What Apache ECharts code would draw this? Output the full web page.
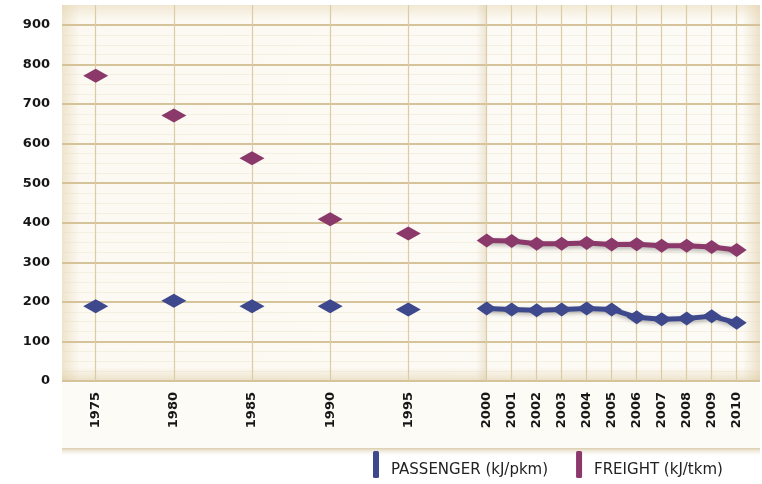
<!DOCTYPE html>
<html>
<head>
<meta charset="utf-8">
<script src="https://cdn.jsdelivr.net/npm/echarts@6/dist/echarts.min.js"></script>
<style>
  html, body { margin: 0; padding: 0; background: #ffffff; }
  #chart { width: 762px; height: 484px; }
</style>
</head>
<body>
<div id="chart"></div>
<script>
// ---- data ----
const yearsEarly = ['1975', '1980', '1985', '1990', '1995'];
const yearsLate = ['2000', '2001', '2002', '2003', '2004', '2005', '2006', '2007', '2008', '2009', '2010'];
const passengerEarly = [189, 203, 189, 189, 181];
const freightEarly = [772, 671, 563, 409, 373];
const passengerLate = [183, 181, 179, 181, 183, 181, 161, 156, 158, 164, 147];
const freightLate = [355, 354, 347, 347, 349, 345, 346, 342, 342, 339, 331];
const seriesNames = ['PASSENGER (kJ/pkm)', 'FREIGHT (kJ/tkm)'];
const yMin = 0, yMax = 900, yStep = 100;

// ---- layout ----
const paperLeft = 62, paperRight = 760, paperTop = 5;
const yTopPx = 25, yBottomPx = 381;
const hiddenMax = yMax * (yBottomPx - paperTop) / (yBottomPx - yTopPx);
const colPassenger = '#3d488d';
const colFreight = '#8b386b';
const labelFont = { fontFamily: 'DejaVu Sans', fontWeight: 'bold', fontSize: 13, color: '#161616' };

const chart = echarts.init(document.getElementById('chart'));
chart.setOption({
  animation: false,
  backgroundColor: '#ffffff',
  graphic: [
    { type: 'rect', z: -10, shape: { x: paperLeft, y: paperTop, width: paperRight - paperLeft, height: yBottomPx - paperTop + 1 },
      style: { fill: new echarts.graphic.LinearGradient(0, 0, 1, 0, [
        { offset: 0, color: '#efe4cc' }, { offset: 0.025, color: '#fcf9f2' },
        { offset: 0.975, color: '#fdfbf6' }, { offset: 1, color: '#ece1c8' }]) } },
    { type: 'rect', z: -9, shape: { x: paperLeft, y: paperTop, width: paperRight - paperLeft, height: yBottomPx - paperTop + 1 },
      style: { fill: new echarts.graphic.LinearGradient(0, 0, 0, 1, [
        { offset: 0, color: 'rgba(228,210,172,0.45)' }, { offset: 0.04, color: 'rgba(228,210,172,0)' },
        { offset: 0.96, color: 'rgba(225,205,165,0)' }, { offset: 1, color: 'rgba(215,195,150,0.5)' }]) } },
    { type: 'rect', z: -9, shape: { x: 476, y: paperTop, width: 11, height: yBottomPx - paperTop },
      style: { fill: new echarts.graphic.LinearGradient(0, 0, 1, 0, [
        { offset: 0, color: 'rgba(205,185,145,0)' }, { offset: 1, color: 'rgba(205,185,145,0.35)' }]) } },
    { type: 'rect', z: -10, shape: { x: paperLeft, y: yBottomPx + 2, width: paperRight - paperLeft, height: 66 },
      style: { fill: '#fdfbf6' } },
    { type: 'rect', z: -9, shape: { x: paperLeft, y: 448, width: paperRight - paperLeft, height: 9 },
      style: { fill: new echarts.graphic.LinearGradient(0, 0, 0, 1, [
        { offset: 0, color: 'rgba(205,185,140,0.7)' }, { offset: 1, color: 'rgba(255,255,255,0)' }]) } }
  ],
  grid: [
    { left: paperLeft, top: yTopPx, width: paperRight - paperLeft, height: yBottomPx - yTopPx },
    { left: 95.7, top: paperTop, width: 408.3 - 95.7, height: yBottomPx - paperTop },
    { left: 486.7, top: paperTop, width: 250, height: yBottomPx - paperTop }
  ],
  xAxis: [
    { gridIndex: 0, type: 'value', show: false, min: 0, max: 1 },
    { gridIndex: 1, type: 'category', data: yearsEarly, boundaryGap: false,
      axisLine: { show: false }, axisTick: { show: false },
      axisLabel: Object.assign({ rotate: 90, margin: 11, interval: 0 }, labelFont),
      splitLine: { show: true, lineStyle: { color: '#dccca6', width: 1.2 } } },
    { gridIndex: 2, type: 'category', data: yearsLate, boundaryGap: false,
      axisLine: { show: false }, axisTick: { show: false },
      axisLabel: Object.assign({ rotate: 90, margin: 11, interval: 0 }, labelFont),
      splitLine: { show: true, lineStyle: { color: '#dccca6', width: 1.2 } } }
  ],
  yAxis: [
    { gridIndex: 0, type: 'value', min: yMin, max: yMax, interval: yStep,
      axisLine: { show: false }, axisTick: { show: false },
      axisLabel: Object.assign({ margin: 12 }, labelFont),
      splitLine: { show: true, lineStyle: { color: '#d6c399', width: 2.2 } },
      minorTick: { show: false, splitNumber: 4 },
      minorSplitLine: { show: true, lineStyle: { color: 'rgba(230,215,185,0.3)', width: 1 } } },
    { gridIndex: 1, type: 'value', min: 0, max: hiddenMax, show: false },
    { gridIndex: 2, type: 'value', min: 0, max: hiddenMax, show: false }
  ],
  legend: {
    data: seriesNames,
    left: 373, top: 451, padding: 0,
    icon: 'roundRect', itemWidth: 6, itemHeight: 27, itemGap: 28,
    itemStyle: { opacity: 1 },
    formatter: function (name) { return '{t|' + name + '}'; },
    textStyle: {
      fontFamily: 'DejaVu Sans', fontSize: 15, color: '#222',
      rich: { t: { fontFamily: 'DejaVu Sans', fontSize: 15, color: '#222', padding: [12, 0, 0, 7] } }
    }
  },
  series: [
    { name: seriesNames[0], type: 'scatter', xAxisIndex: 1, yAxisIndex: 1, data: passengerEarly,
      symbol: 'diamond', symbolSize: [25, 14], itemStyle: { color: colPassenger, opacity: 1 } },
    { name: seriesNames[1], type: 'scatter', xAxisIndex: 1, yAxisIndex: 1, data: freightEarly,
      symbol: 'diamond', symbolSize: [25, 14], itemStyle: { color: colFreight, opacity: 1 } },
    { name: seriesNames[0], type: 'line', xAxisIndex: 2, yAxisIndex: 2, data: passengerLate,
      symbol: 'diamond', symbolSize: [20, 14], showAllSymbol: true,
      itemStyle: { color: colPassenger, opacity: 1 },
      lineStyle: { color: colPassenger, width: 5, shadowColor: 'rgba(0,0,0,0.3)', shadowBlur: 4, shadowOffsetY: 2 } },
    { name: seriesNames[1], type: 'line', xAxisIndex: 2, yAxisIndex: 2, data: freightLate,
      symbol: 'diamond', symbolSize: [20, 14], showAllSymbol: true,
      itemStyle: { color: colFreight, opacity: 1 },
      lineStyle: { color: colFreight, width: 5, shadowColor: 'rgba(0,0,0,0.3)', shadowBlur: 4, shadowOffsetY: 2 } }
  ]
});
</script>
</body>
</html>
